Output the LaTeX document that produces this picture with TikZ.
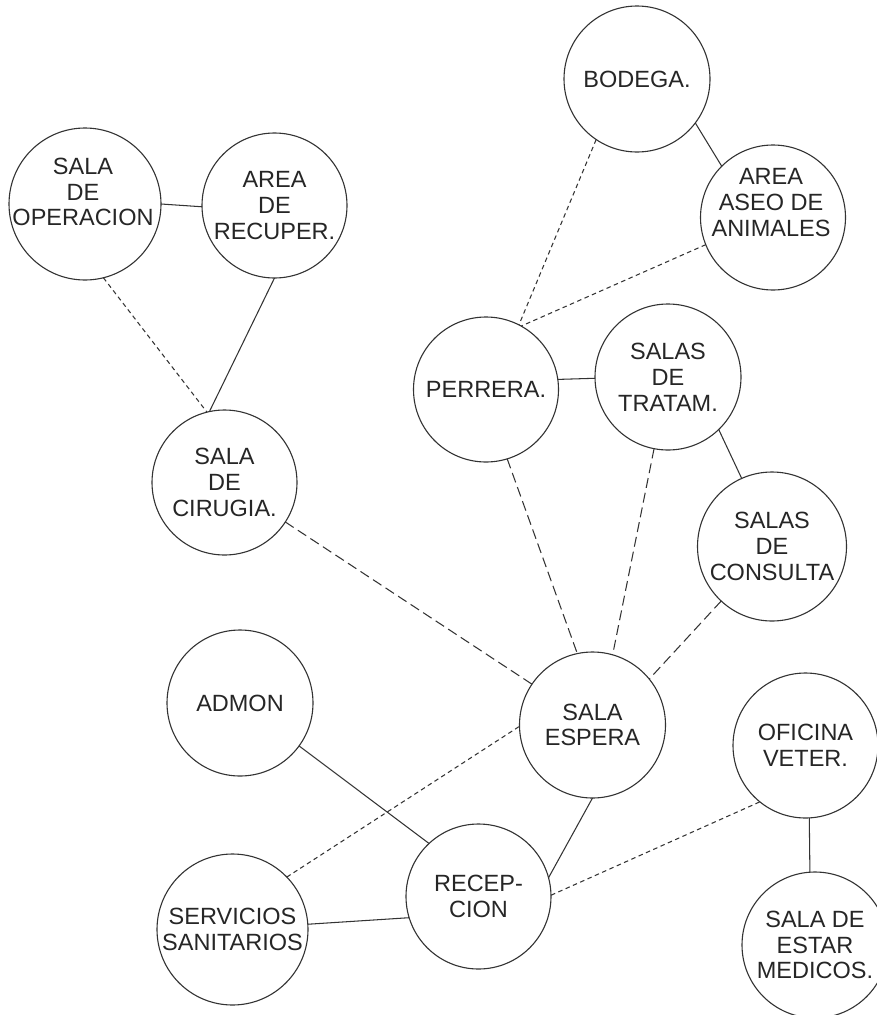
\documentclass[tikz,border=0pt]{standalone}
\usepackage{fontspec}
\setmainfont{Liberation Sans}
\begin{document}
\begin{tikzpicture}[x=1pt,y=-1pt,
  txt/.style={align=center, text=black!85, font=\fontsize{23.5}{25.8}\selectfont, inner sep=0pt},
  room/.style={circle, draw=black!80, line width=1.1pt, minimum size=2*#1, inner sep=0pt, outer sep=0pt, txt},
  room/.default=73,
  link/.style={draw=black!80, line width=1.05pt},
  longdash/.style={link, dash pattern=on 10pt off 5pt},
  shortdash/.style={link, dash pattern=on 4.5pt off 3.5pt}]
\useasboundingbox (0,0) rectangle (877,1015);
\clip (0,0) rectangle (877,1015);
\fill[white] (0,0) rectangle (877,1015);

% rooms
\node[room=76] (op) at (85,204) {};
\node[txt] (opt) at (83,192) {SALA\\DE\\OPERACION};
\node[room=72.5] (rec) at (274.5,205.5) {AREA\\DE\\RECUPER.};
\node[room=72.5] (cir) at (224.5,482.5) {SALA\\DE\\CIRUGIA.};
\node[room=73] (bod) at (637,79) {BODEGA.};
\node[room=72.5] (aseo) at (773,217.5) {};
\node[txt] (aseot) at (771,202.5) {AREA\\ASEO DE\\ANIMALES};
\node[room=72.5] (per) at (486,389.5) {PERRERA.};
\node[room=73] (tra) at (668,377) {SALAS\\DE\\TRATAM.};
\node[room=74.5] (con) at (772,546.5) {SALAS\\DE\\CONSULTA};
\node[room=73] (adm) at (240,703) {ADMON};
\node[room=75.5] (ser) at (232.5,929.5) {SERVICIOS\\SANITARIOS};
\node[room=72.5] (recp) at (478.5,896.5) {RECEP-\\CION};
\node[room=73] (esp) at (592.5,725) {SALA\\ESPERA};
\node[room=72.5] (ofi) at (805.5,745.5) {OFICINA\\VETER.};
\node[room=73] (est) at (815,945) {SALA DE\\ESTAR\\MEDICOS.};

% solid connectors
\draw[link] (op.0) -- (rec.181);
\draw[link] (rec.-90) -- (cir.102);
\draw[link] (bod.-37.8) -- (aseo.135.8);
\draw[link] (per.8.3) -- (tra.181.6);
\draw[link] (tra.-46.6) -- (con.114.7);
\draw[link] (adm.-36.6) -- (recp.133.9);
\draw[link] (ser.4) -- (recp.-163.3);
\draw[link] (recp.15.5) -- (esp.-90);
\draw[link] (ofi.-87) -- (est.94.7);

% dashed connectors
\draw[shortdash] (op.-76.3) -- (cir.104.5);
\draw[longdash] (cir.-33.6) -- (esp.146);
\draw[shortdash] (bod.-124.5) -- (per.63.3);
\draw[shortdash] (aseo.-158.7) -- (per.61.9);
\draw[longdash] (per.-73.8) -- (esp.102);
\draw[longdash] (tra.-101.8) -- (esp.74.1);
\draw[longdash] (con.-133.1) -- (esp.39.8);
\draw[shortdash] (ser.44.5) -- (esp.181);
\draw[shortdash] (recp.1.2) -- (ofi.-129.5);
\end{tikzpicture}
\end{document}
